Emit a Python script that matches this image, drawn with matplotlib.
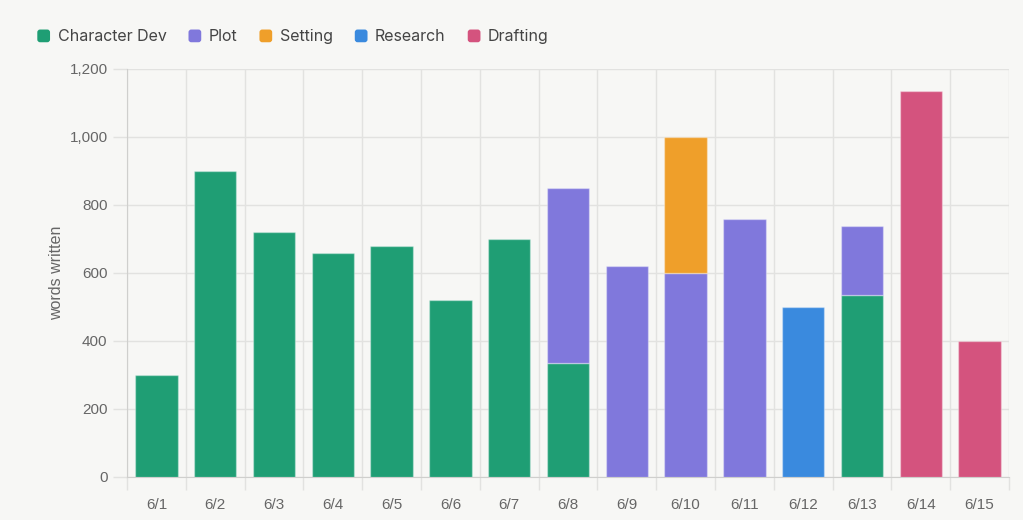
import matplotlib
matplotlib.use("Agg")
import matplotlib.pyplot as plt
from matplotlib.patches import Patch, FancyBboxPatch
from matplotlib.legend_handler import HandlerPatch
from matplotlib.ticker import FuncFormatter, FixedLocator
import numpy as np

days = ["6/1", "6/2", "6/3", "6/4", "6/5", "6/6", "6/7", "6/8", "6/9", "6/10",
        "6/11", "6/12", "6/13", "6/14", "6/15"]
character_dev = [300, 900, 720, 660, 680, 520, 700, 335, 0, 0, 0, 0, 535, 0, 0]
plot_words = [0, 0, 0, 0, 0, 0, 0, 515, 620, 600, 760, 0, 202, 0, 0]
setting = [0, 0, 0, 0, 0, 0, 0, 0, 0, 400, 0, 0, 0, 0, 0]
research = [0, 0, 0, 0, 0, 0, 0, 0, 0, 0, 0, 500, 0, 0, 0]
drafting = [0, 0, 0, 0, 0, 0, 0, 0, 0, 0, 0, 0, 0, 1135, 400]

series = [
    ("Character Dev", character_dev, "#1f9e74"),
    ("Plot", plot_words, "#8078dc"),
    ("Setting", setting, "#ef9f2a"),
    ("Research", research, "#3a8ade"),
    ("Drafting", drafting, "#d4537e"),
]

bg = "#f7f7f5"
grid_c = "#e2e2e0"
text_c = "#666666"
tick_font = "Liberation Sans"

fig = plt.figure(figsize=(10.23, 5.2), dpi=100, facecolor=bg)
ax = fig.add_axes([127 / 1023, 43 / 520, (1009 - 127) / 1023, (477 - 69) / 520])
ax.set_facecolor(bg)

x = np.arange(len(days))
bottom = np.zeros(len(days))
for name, vals, col in series:
    v = np.array(vals, dtype=float)
    m = v > 0
    ax.bar(x[m], v[m], bottom=bottom[m], width=0.72, color=col,
           edgecolor=matplotlib.colors.to_rgba("white", 0.35), linewidth=1, zorder=3)
    bottom += v

ax.set_xlim(-0.5, len(days) - 0.5)
ax.set_ylim(0, 1200)
ax.set_yticks(np.arange(0, 1201, 200))
ax.yaxis.set_major_formatter(FuncFormatter(lambda v, p: f"{int(v):,}"))

ax.set_xticks(x)
ax.set_xticklabels(days)
ax.xaxis.set_minor_locator(FixedLocator(np.arange(-0.5, len(days), 1.0)))
ax.tick_params(axis="x", which="major", length=0, pad=15, labelsize=11, labelcolor=text_c)
ax.tick_params(axis="x", which="minor", length=9, width=1, color=grid_c)
ax.tick_params(axis="y", which="major", length=10, width=1, color=grid_c, labelsize=11,
               labelcolor=text_c, pad=4)
for lbl in ax.get_xticklabels() + ax.get_yticklabels():
    lbl.set_family(tick_font)

ax.grid(True, axis="y", which="major", color=grid_c, linewidth=1, zorder=0)
ax.grid(True, axis="x", which="minor", color=grid_c, linewidth=1, zorder=0)
ax.grid(False, axis="x", which="major")

for s in ["top", "right"]:
    ax.spines[s].set_visible(False)
ax.spines["left"].set_color("#cfcfcd")
ax.spines["bottom"].set_color("#cfcfcd")

ax.set_ylabel("words written", color=text_c, fontsize=11.5, family=tick_font, labelpad=4)


class RoundedHandler(HandlerPatch):
    def create_artists(self, legend, orig_handle, xdescent, ydescent, width, height,
                       fontsize, trans):
        s = min(width, height)
        p = FancyBboxPatch((-xdescent + (width - s) / 2, -ydescent + (height - s) / 2), s, s,
                           boxstyle="round,pad=0,rounding_size=2",
                           facecolor=orig_handle.get_facecolor(), edgecolor="none",
                           transform=trans)
        return [p]


handles = [Patch(facecolor=c, edgecolor="none", label=n) for n, _, c in series]
fig.legend(handles=handles, loc="center left", bbox_to_anchor=(0.022, 0.929),
           ncol=5, frameon=False, handlelength=0.85, handleheight=0.85,
           handletextpad=0.45, columnspacing=1.35,
           handler_map={Patch: RoundedHandler()},
           prop={"family": "Inter", "size": 11.5}, labelcolor="#444444")

fig.savefig("out.png", dpi=100, facecolor=bg)
